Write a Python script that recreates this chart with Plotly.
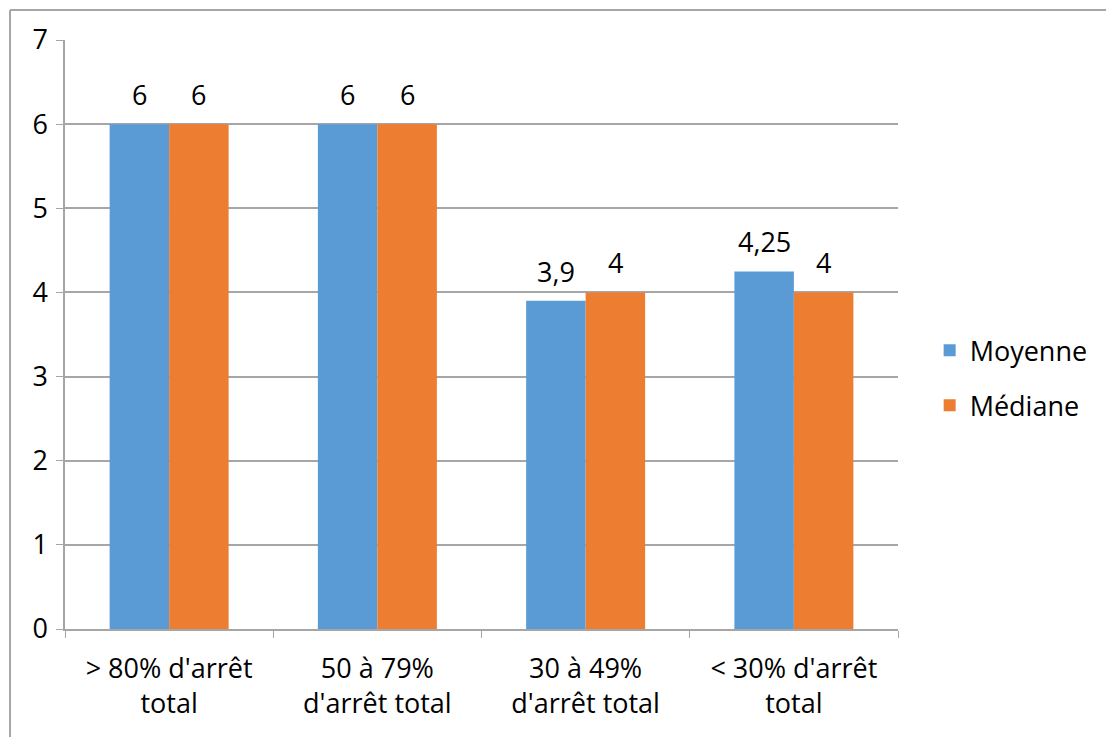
import plotly.graph_objects as go

categories = ["> 80% d'arrêt<br>total", "50 à 79%<br>d'arrêt total", "30 à 49%<br>d'arrêt total", "< 30% d'arrêt<br>total"]
moyenne = [6, 6, 3.9, 4.25]
mediane = [6, 6, 4, 4]
series_names = ["Moyenne", "Médiane"]
colors = ["#5B9BD5", "#ED7D31"]

FONT = "Open Sans"
FS = 27
W, H = 1106, 737
L, R, T, B = 65, 208, 40, 108
plot_w = W - L - R
cat_w = plot_w / len(categories)
bar_w = cat_w / 3.5

fig = go.Figure()
for i, (name, vals, col) in enumerate(zip(series_names, [moyenne, mediane], colors)):
    fig.add_trace(go.Bar(
        x=categories, y=vals, name=name, legendgroup=name,
        marker=dict(color=col, line=dict(width=0)),
    ))
    shift = (i - 0.5) * bar_w
    for c, v in zip(categories, vals):
        fig.add_annotation(x=c, y=v, xref="x", yref="y", text=f"{v:g}".replace(".", ","),
                           showarrow=False, yanchor="bottom", xanchor="center",
                           xshift=shift, yshift=9,
                           font=dict(family=FONT, size=FS, color="#000000"))

border = dict(color="#A6A6A6", width=2)
fig.update_layout(
    width=W, height=H,
    barmode="group", bargap=1.5 / 3.5, bargroupgap=0,
    separators=", ",
    paper_bgcolor="white", plot_bgcolor="white",
    margin=dict(l=L, r=R, t=T, b=B, autoexpand=False),
    font=dict(family=FONT, size=FS, color="#000000"),
    legend=dict(x=1.038, y=0.426, xanchor="left", yanchor="middle",
                font=dict(family=FONT, size=FS), traceorder="grouped", tracegroupgap=17,
                itemwidth=30),
    shapes=[
        dict(type="line", xref="paper", yref="paper", x0=-0.066, x1=1.3, y0=1.0509, y1=1.0509,
             line=border, layer="below"),
        dict(type="line", xref="paper", yref="paper", x0=-0.066, x1=-0.066, y0=-0.2, y1=1.0509,
             line=border, layer="below"),
    ],
)
fig.update_xaxes(showline=True, linecolor="#A6A6A6", linewidth=1.5, ticks="outside",
                 tickson="boundaries", ticklen=7, tickcolor="#A6A6A6", showgrid=False,
                 tickfont=dict(family=FONT, size=FS), ticklabelstandoff=15)
fig.update_yaxes(range=[0, 7], dtick=1, showline=True, linecolor="#A6A6A6", linewidth=1.5,
                 ticks="outside", ticklen=7, tickcolor="#A6A6A6", gridcolor="#A6A6A6",
                 gridwidth=1.5, zeroline=False, tickfont=dict(family=FONT, size=FS),
                 ticklabelstandoff=3)

fig.write_html("out.html", config={"displayModeBar": False},
               post_script="document.body.style.margin='0';document.body.style.overflow='hidden';")
